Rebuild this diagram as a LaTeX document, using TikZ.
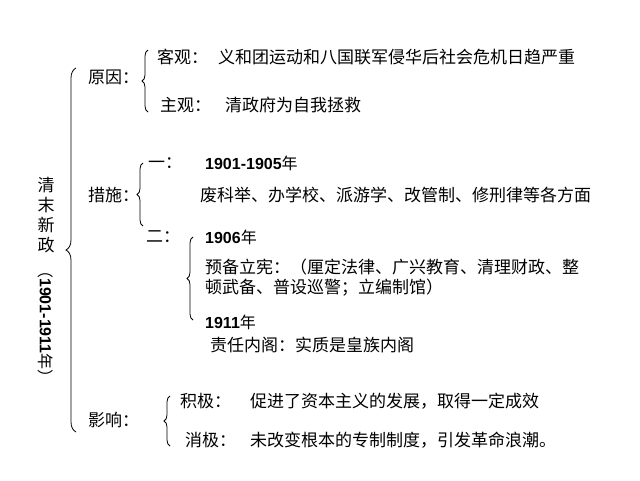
\documentclass[tikz,border=0pt]{standalone}
\usepackage{fontspec}
\setmainfont{Noto Sans CJK SC}
\newfontfamily\numfont{Liberation Sans}
\usetikzlibrary{decorations.pathreplacing,positioning}
\tikzset{
	txt/.style = {anchor=west, inner sep=0pt, font=\fontsize{17}{20}\selectfont},
	num/.style = {anchor=west, inner sep=0pt, font=\fontsize{16}{20}\selectfont\numfont\bfseries},
	brc/.style = {decorate, decoration={brace, mirror, amplitude=#1}, thick},
	brc/.default = 6,
}
\begin{document}
\begin{tikzpicture}[x=1pt, y=-1pt]
	\useasboundingbox (0,0) rectangle (640,480);
	% title column
	\node[inner sep=0pt, align=center, font=\fontsize{17}{20}\selectfont] (tt) at (46,215) {清\\末\\新\\政};
	\node[inner sep=0pt, rotate=-90, font=\fontsize{16}{18}\selectfont] (yr) at (46,324) {（{\numfont\bfseries 1901-1911}年）};
	\coordinate (bt) at (76,68);
	\coordinate (bb) at (76,432);
	\draw[brc=10] (bt) -- (bb);
	% reasons
	\node[txt] (yy) at (88,77) {原因：};
	\coordinate (yt) at (148,50);
	\coordinate (yb) at (148,112);
	\draw[brc] (yt) -- (yb);
	\node[txt] (kg) at (157,57) {客观：};
	\node[txt] (kgt) at (218,57) {义和团运动和八国联军侵华后社会危机日趋严重};
	\node[txt] (zg) at (160,105) {主观：};
	\node[txt] (zgt) at (225,105) {清政府为自我拯救};
	% measures
	\node[txt] (cs) at (88,195) {措施：};
	\coordinate (ct) at (143,163);
	\coordinate (cb) at (143,226);
	\draw[brc] (ct) -- (cb);
	\node[txt] (y1) at (148,163) {一：};
	\node[num] (y1t) at (205,163) {1901-1905\rmfamily\mdseries 年};
	\node[txt] (y1d) at (200,195) {废科举、办学校、派游学、改管制、修刑律等各方面};
	\node[txt] (e2) at (146,237) {二：};
	\coordinate (et) at (193,237);
	\coordinate (eb) at (193,320);
	\draw[brc] (et) -- (eb);
	\node[num] (e2a) at (205,237) {1906\rmfamily\mdseries 年};
	\node[txt, align=left] (e2b) at (205,278) {预备立宪：（厘定法律、广兴教育、清理财政、整\\顿武备、普设巡警；立编制馆）};
	\node[num] (e2c) at (205,322) {1911\rmfamily\mdseries 年};
	\node[txt] (e2d) at (210,345) {责任内阁：实质是皇族内阁};
	% effects
	\node[txt] (yx) at (88,420) {影响：};
	\coordinate (xt) at (170,396);
	\coordinate (xb) at (170,446);
	\draw[brc] (xt) -- (xb);
	\node[txt] (jj) at (180,401) {积极：};
	\node[txt] (jjt) at (250,401) {促进了资本主义的发展，取得一定成效};
	\node[txt] (xj) at (185,440) {消极：};
	\node[txt] (xjt) at (250,440) {未改变根本的专制制度，引发革命浪潮。};
\end{tikzpicture}
\end{document}
